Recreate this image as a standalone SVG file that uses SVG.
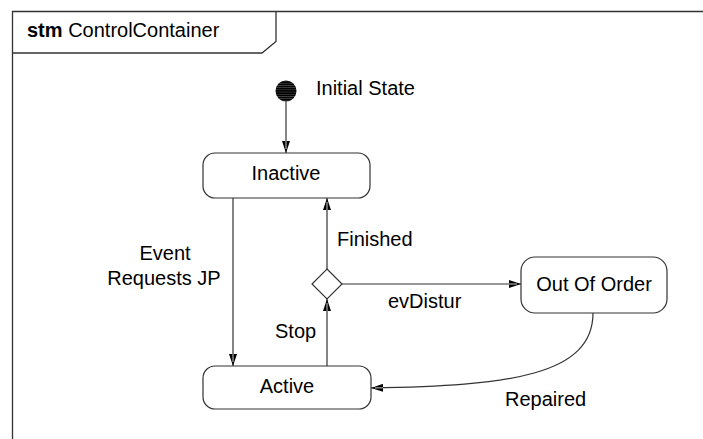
<svg xmlns="http://www.w3.org/2000/svg" width="703" height="439" viewBox="0 0 703 439">
<style>
text{font-family:"Liberation Sans",Arial,sans-serif;font-size:20px;fill:#000}
.mid{text-anchor:middle}
.frame{fill:none;stroke:#333;stroke-width:1.3}
.state rect{fill:#fff;stroke:#333;stroke-width:1.2}
.conn path,.conn line{fill:none;stroke:#333;stroke-width:1.2}
</style>
<defs>
<marker id="arrow" viewBox="0 0 12 8" refX="12" refY="4" markerWidth="12" markerHeight="8" markerUnits="userSpaceOnUse" orient="auto">
<path d="M0,0 L12,4 L0,8 z" fill="#000"/>
<path d="M0,4 L8,4" stroke="#fff" stroke-width="0.8"/>
</marker>
<pattern id="stripes" width="4" height="2.2" patternUnits="userSpaceOnUse">
<rect width="4" height="2.2" fill="#000"/>
<rect y="1.6" width="4" height="0.6" fill="#555"/>
</pattern>
</defs>
<rect width="703" height="439" fill="#fff"/>

<!-- frame and name tab -->
<g id="frame">
<path class="frame" d="M12.5,439 V11.5 H703"/>
<path class="frame" d="M12.5,53 H262 L276,41.5 V11.5"/>
<text x="27" y="37"><tspan font-weight="bold">stm</tspan> ControlContainer</text>
</g>

<!-- transitions -->
<g id="connectors" class="conn">
<line x1="286" y1="101.5" x2="286" y2="153" marker-end="url(#arrow)"/>
<line x1="233" y1="198" x2="233" y2="366" marker-end="url(#arrow)"/>
<line x1="327" y1="366" x2="327" y2="299" marker-end="url(#arrow)"/>
<line x1="327" y1="269" x2="327" y2="198" marker-end="url(#arrow)"/>
<line x1="342" y1="284" x2="521" y2="284" marker-end="url(#arrow)"/>
<path d="M593,313 C593,375 510,386 371,388" marker-end="url(#arrow)"/>
</g>

<!-- transition labels -->
<g id="labels">
<text x="316" y="95">Initial State</text>
<text class="mid" x="165" y="260">Event</text>
<text class="mid" x="164" y="285">Requests JP</text>
<text x="337" y="246">Finished</text>
<text x="388" y="308">evDistur</text>
<text x="275" y="338">Stop</text>
<text x="505" y="406">Repaired</text>
</g>

<g id="initial">
<circle cx="286" cy="91" r="10.5" fill="url(#stripes)"/>
</g>

<g id="inactive" class="state">
<rect x="203" y="153" width="167" height="45" rx="12"/>
<text class="mid" x="286" y="180">Inactive</text>
</g>

<g id="choice">
<polygon points="327,269 342,284 327,299 312,284" fill="#fff" stroke="#333" stroke-width="1.2"/>
</g>

<g id="active" class="state">
<rect x="203" y="366" width="168" height="43" rx="12"/>
<text class="mid" x="287" y="393">Active</text>
</g>

<g id="outoforder" class="state">
<rect x="521" y="257" width="146" height="56" rx="14"/>
<text class="mid" x="594" y="291">Out Of Order</text>
</g>
</svg>
